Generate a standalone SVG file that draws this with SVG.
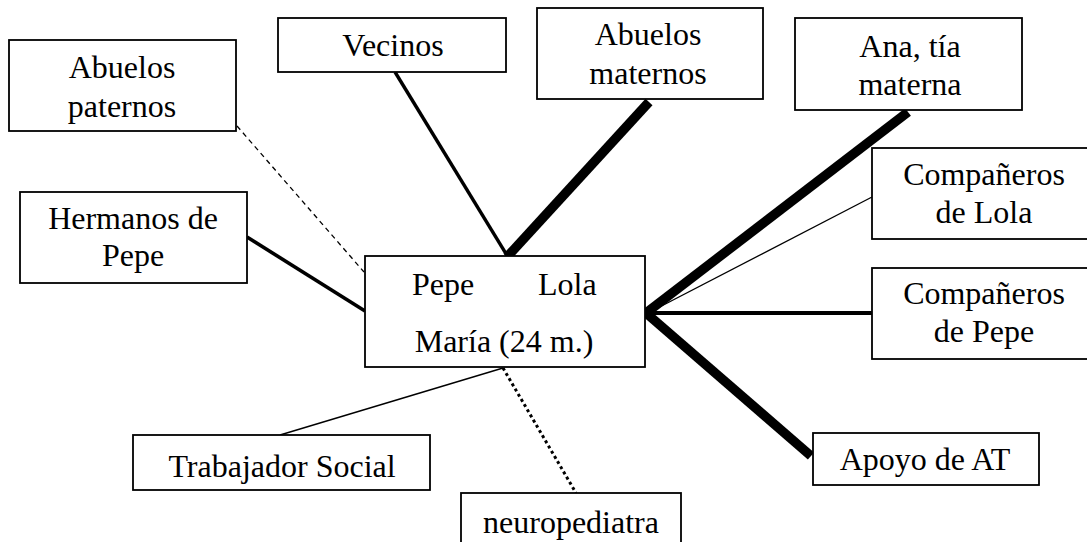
<svg xmlns="http://www.w3.org/2000/svg" width="1087" height="542" viewBox="0 0 1087 542">
<style>
.box{fill:#fff;stroke:#000;stroke-width:1.8}
.t{font-size:32px;fill:#000;text-anchor:middle}
.c{stroke:#000;fill:none;stroke-linecap:butt}
</style>
<rect width="1087" height="542" fill="#fff"/>
<g id="connectors">
<line class="c" x1="237" y1="126" x2="364" y2="272" stroke-width="1.3" stroke-dasharray="5,4"/>
<line class="c" x1="395" y1="72" x2="508" y2="257" stroke-width="3.4"/>
<line class="c" x1="649" y1="102" x2="507" y2="257" stroke-width="9.5"/>
<line class="c" x1="247" y1="237" x2="365" y2="311" stroke-width="3.6"/>
<line class="c" x1="908" y1="112" x2="646" y2="313" stroke-width="9.5"/>
<line class="c" x1="872" y1="197" x2="648" y2="313" stroke-width="1.3"/>
<line class="c" x1="645" y1="313" x2="872" y2="313" stroke-width="4"/>
<line class="c" x1="646" y1="313" x2="811" y2="456" stroke-width="9.5"/>
<line class="c" x1="280" y1="435" x2="503" y2="368" stroke-width="1.4"/>
<line class="c" x1="503" y1="368" x2="576" y2="493" stroke-width="3" stroke-dasharray="3,3"/>
</g>
<g font-family="'Liberation Serif', serif">
<g id="abuelos-paternos"><rect class="box" x="9" y="40" width="227" height="91"/><text class="t" x="122" y="78">Abuelos</text><text class="t" x="122" y="117">paternos</text></g>
<g id="vecinos"><rect class="box" x="278" y="18" width="228" height="54"/><text class="t" x="393" y="56">Vecinos</text></g>
<g id="abuelos-maternos"><rect class="box" x="537" y="8" width="226" height="91"/><text class="t" x="648" y="45">Abuelos</text><text class="t" x="648" y="84">maternos</text></g>
<g id="ana"><rect class="box" x="795" y="18" width="227" height="92"/><text class="t" x="910" y="57">Ana, tía</text><text class="t" x="910" y="95">materna</text></g>
<g id="companeros-lola"><rect class="box" x="872" y="148" width="220" height="91"/><text class="t" x="984" y="185">Compañeros</text><text class="t" x="984" y="223">de Lola</text></g>
<g id="hermanos-pepe"><rect class="box" x="20" y="192" width="227" height="91"/><text class="t" x="133" y="229">Hermanos de</text><text class="t" x="133" y="266">Pepe</text></g>
<g id="familia"><rect class="box" x="365" y="256" width="280" height="111"/><text class="t" x="412" y="295" text-anchor="start" style="text-anchor:start">Pepe</text><text class="t" x="538" y="295" style="text-anchor:start">Lola</text><text class="t" x="504" y="352">María (24 m.)</text></g>
<g id="companeros-pepe"><rect class="box" x="872" y="268" width="220" height="91"/><text class="t" x="984" y="304">Compañeros</text><text class="t" x="984" y="342">de Pepe</text></g>
<g id="apoyo-at"><rect class="box" x="813" y="433" width="226" height="52"/><text class="t" x="925" y="470">Apoyo de AT</text></g>
<g id="trabajador-social"><rect class="box" x="133" y="435" width="297" height="55"/><text class="t" x="282" y="477">Trabajador Social</text></g>
<g id="neuropediatra"><rect class="box" x="461" y="493" width="220" height="60"/><text class="t" x="571" y="533">neuropediatra</text></g>
</g>
</svg>
